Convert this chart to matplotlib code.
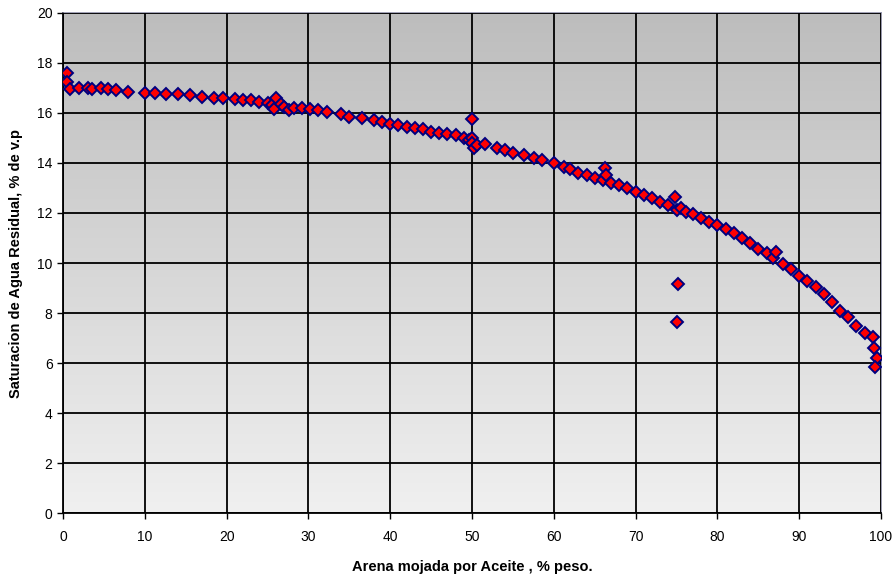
import numpy as np
import matplotlib.pyplot as plt

# Arena mojada por aceite (% peso) vs saturacion de agua residual (% v.p)
arena = [0.5, 0.5, 0.8, 2.0, 3.0, 3.6, 4.6, 5.5, 6.5, 8.0, 10.0, 11.2, 12.6, 14.0,
         15.5, 17.0, 18.4, 19.6, 21.0, 22.0, 23.0, 24.0, 25.0, 25.6, 26.0, 25.8,
         26.6, 27.0, 27.6, 28.2, 29.2, 30.2, 31.2, 32.3, 34.0, 35.0, 36.6, 38.0,
         39.0, 40.0, 41.0, 42.0, 43.0, 44.0, 45.0, 46.0, 47.0, 48.0, 49.0, 49.6,
         50.0, 50.0, 50.0, 50.3, 50.6, 51.6, 53.0, 54.0, 55.0, 56.3, 57.6, 58.6,
         60.0, 61.2, 62.0, 63.0, 64.0, 65.0, 66.0, 66.3, 66.4, 67.0, 68.0, 69.0,
         70.0, 71.0, 72.0, 73.0, 74.0, 74.8, 75.0, 75.6, 76.2, 77.0, 78.0, 79.0,
         80.0, 81.0, 82.0, 83.0, 84.0, 85.0, 86.0, 86.8, 87.2, 88.0, 89.0, 90.0,
         91.0, 92.0, 93.0, 94.0, 95.0, 96.0, 97.0, 98.0, 99.0, 99.2, 99.5, 99.3,
         75.2, 75.0]
saturacion = [17.6, 17.25, 16.95, 17.0, 17.0, 16.95, 17.0, 16.95, 16.9, 16.85, 16.8, 16.8,
              16.75, 16.75, 16.7, 16.65, 16.6, 16.6, 16.55, 16.5, 16.5, 16.45, 16.4,
              16.3, 16.6, 16.15, 16.35, 16.25, 16.1, 16.2, 16.2, 16.15, 16.1, 16.05,
              15.95, 15.85, 15.8, 15.7, 15.65, 15.55, 15.5, 15.45, 15.4, 15.35, 15.25,
              15.2, 15.15, 15.1, 15.0, 14.9, 15.75, 15.0, 14.8, 14.6, 14.7, 14.75,
              14.6, 14.5, 14.4, 14.3, 14.2, 14.1, 14.0, 13.85, 13.75, 13.6, 13.5,
              13.4, 13.3, 13.78, 13.5, 13.2, 13.1, 13.0, 12.85, 12.7, 12.6, 12.45,
              12.3, 12.65, 12.1, 12.2, 12.05, 11.95, 11.8, 11.65, 11.5, 11.35, 11.2,
              11.0, 10.8, 10.55, 10.4, 10.2, 10.45, 9.95, 9.75, 9.5, 9.3, 9.05,
              8.75, 8.45, 8.1, 7.85, 7.5, 7.2, 7.05, 6.6, 6.2, 5.85,
              9.18, 7.65]

x_ticks = list(range(0, 101, 10))
y_ticks = list(range(0, 21, 2))

plt.rcParams['font.family'] = ['Liberation Sans', 'DejaVu Sans']

fig = plt.figure(figsize=(8.95, 5.8), dpi=100)
ax = fig.add_axes([0.0704, 0.1155, 0.9140, 0.8621])

# vertical gray gradient behind the data
grad = np.linspace(0, 1, 256).reshape(-1, 1)
ax.imshow(grad, cmap=plt.matplotlib.colors.LinearSegmentedColormap.from_list(
    'fondo', ['#f0f0f0', '#bdbdbd']), origin='lower', aspect='auto',
    extent=[0, 100, 0, 20], zorder=0)

ax.set_xlim(0, 100)
ax.set_ylim(0, 20)
ax.set_xticks(x_ticks)
ax.set_yticks(y_ticks)
ax.grid(True, color='black', linewidth=1.3, zorder=1)
ax.set_axisbelow(False)

ax.plot(arena, saturacion, linestyle='none', marker='D', markersize=6,
        markerfacecolor='#ff0000', markeredgecolor='#000080',
        markeredgewidth=1.4, zorder=3)

for side in ['left', 'bottom']:
    ax.spines[side].set_color('black')
    ax.spines[side].set_linewidth(1.3)
for side in ['top', 'right']:
    ax.spines[side].set_color('#9090a8')
    ax.spines[side].set_linewidth(1.2)

ax.tick_params(axis='both', direction='out', length=4, width=1, labelsize=10,
               colors='black')
ax.tick_params(axis='x', pad=8)

ax.set_xlabel('Arena mojada por Aceite , % peso.', fontsize=10.5,
              fontweight='bold', labelpad=12)
ax.set_ylabel('Saturacion de Agua Residual, % de v.p', fontsize=10.5,
              fontweight='bold', labelpad=10)

fig.savefig('out.png', dpi=100)
